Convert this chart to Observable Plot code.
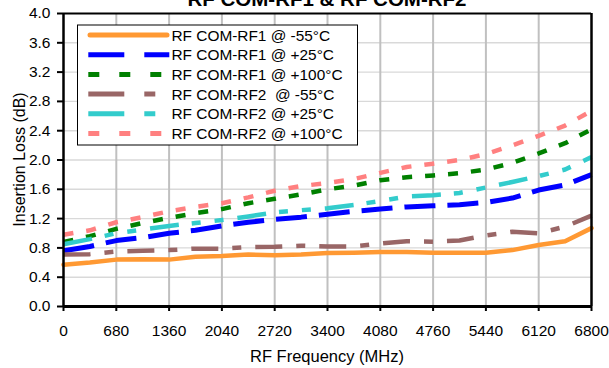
<!DOCTYPE html>
<html>
<head>
<meta charset="utf-8">
<script src="https://cdn.jsdelivr.net/npm/d3@7"></script>
<script src="https://cdn.jsdelivr.net/npm/@observablehq/plot@0.6"></script>
<style>
  html, body { margin: 0; padding: 0; background: white; overflow: hidden; }
  #chart { position: relative; width: 609px; height: 368px; }
</style>
</head>
<body>
<div id="chart"></div>
<script>
// ---- data ----
const freq = [0, 340, 680, 1020, 1360, 1700, 2040, 2380, 2720, 3060, 3400,
              3740, 4080, 4420, 4760, 5100, 5440, 5780, 6120, 6460, 6800];
const rf1_m55  = [0.57, 0.60, 0.64, 0.645, 0.64, 0.68, 0.69, 0.71, 0.70, 0.71, 0.73,
                  0.735, 0.745, 0.745, 0.735, 0.735, 0.735, 0.77, 0.84, 0.89, 1.07];
const rf1_p25  = [0.76, 0.82, 0.90, 0.94, 1.00, 1.04, 1.10, 1.15, 1.19, 1.22, 1.26,
                  1.30, 1.33, 1.36, 1.375, 1.39, 1.42, 1.48, 1.59, 1.66, 1.80];
const rf1_p100 = [0.88, 0.96, 1.06, 1.14, 1.21, 1.275, 1.33, 1.41, 1.47, 1.53, 1.60,
                  1.65, 1.725, 1.765, 1.79, 1.82, 1.87, 1.96, 2.09, 2.23, 2.42];
const rf2_m55  = [0.71, 0.715, 0.75, 0.76, 0.77, 0.79, 0.79, 0.81, 0.815, 0.83, 0.82,
                  0.82, 0.86, 0.89, 0.885, 0.90, 0.97, 1.02, 1.00, 1.09, 1.24];
const rf2_p25  = [0.85, 0.92, 1.00, 1.05, 1.10, 1.14, 1.18, 1.23, 1.285, 1.315, 1.34,
                  1.385, 1.44, 1.50, 1.52, 1.55, 1.625, 1.70, 1.78, 1.87, 2.04];
const rf2_p100 = [0.98, 1.04, 1.15, 1.22, 1.30, 1.36, 1.41, 1.49, 1.58, 1.645, 1.685,
                  1.74, 1.825, 1.905, 1.95, 2.00, 2.08, 2.20, 2.33, 2.47, 2.67];

const seriesNames = ["RF COM-RF1 @ -55°C", "RF COM-RF1 @ +25°C", "RF COM-RF1 @ +100°C",
                     "RF COM-RF2  @ -55°C", "RF COM-RF2 @ +25°C", "RF COM-RF2 @ +100°C"];
const seriesValues = [rf1_m55, rf1_p25, rf1_p100, rf2_m55, rf2_p25, rf2_p100];
const xTicks = [0, 680, 1360, 2040, 2720, 3400, 4080, 4760, 5440, 6120, 6800];
const yTicks = [0, 0.4, 0.8, 1.2, 1.6, 2.0, 2.4, 2.8, 3.2, 3.6, 4.0];
const titleText = "RF COM-RF1 & RF COM-RF2";
const xLabel = "RF Frequency (MHz)";
const yLabel = "Insertion Loss (dB)";

// ---- styles ----
const colors = ["#FF9933", "#0000FF", "#008000", "#996666", "#33CCCC", "#FF8080"];
const widths = [4.5, 5, 4.5, 4.5, 4.5, 4.5];
const dashes = [null, "31,12", "10,13", "27,14,9,14", "29,13,9,14,9,14", "10,13"];
const legendDashes = [null, "36,20", "11,20", "36,20,11,40", "36,20,11,40", "11,20"];

const W = 609, H = 368;
const mL = 63, mR = 18, mT = 13, mB = 62;
const font = "'Liberation Sans', Arial, Helvetica, sans-serif";

const lineMarks = seriesValues.map((vals, i) =>
  Plot.line(freq.map((f, j) => ({f, v: vals[j]})), {
    x: "f", y: "v",
    stroke: colors[i],
    strokeWidth: widths[i],
    strokeDasharray: dashes[i] || undefined,
    strokeLinecap: dashes[i] ? "butt" : "round",
    strokeLinejoin: "round"
  })
);

const plot = Plot.plot({
  width: W, height: H,
  marginLeft: mL, marginRight: mR, marginTop: mT, marginBottom: mB,
  style: {fontFamily: font, fontSize: "15.5px", background: "white", overflow: "visible", color: "black"},
  x: {domain: [0, 6800], ticks: xTicks, tickFormat: d => String(d), tickSize: 5, tickPadding: 13, label: null},
  y: {domain: [0, 4], ticks: yTicks, tickFormat: d => d.toFixed(1), tickSize: 6, tickPadding: 7, label: null},
  marks: [
    Plot.ruleY(yTicks.slice(1, -1), {stroke: "#d9d9d9", strokeWidth: 1.4}),
    Plot.ruleX(xTicks.slice(1, -1), {stroke: "#c0c0c0", strokeWidth: 2}),
    ...lineMarks,
    Plot.ruleY([4], {stroke: "black", strokeWidth: 2}),
    Plot.ruleX([6800], {stroke: "black", strokeWidth: 2.5}),
    Plot.ruleX([0], {stroke: "black", strokeWidth: 2.5}),
    Plot.ruleY([0], {stroke: "black", strokeWidth: 3})
  ]
});

document.getElementById("chart").appendChild(plot);
const svg = d3.select(plot);
svg.selectAll("g[aria-label='x-axis tick'] path, g[aria-label='y-axis tick'] path")
  .attr("stroke-width", 2);

const cx = mL + (W - mL - mR) / 2;

// title (partly cut off at the top, as in the reference)
svg.append("text")
  .attr("x", cx).attr("y", 6)
  .attr("text-anchor", "middle")
  .attr("font-family", font).attr("font-weight", "bold").attr("font-size", 20.5)
  .attr("fill", "black")
  .text(titleText);

// axis titles
svg.append("text")
  .attr("x", cx).attr("y", 362)
  .attr("text-anchor", "middle")
  .attr("font-family", font).attr("font-size", 16.5)
  .attr("fill", "black")
  .text(xLabel);

svg.append("text")
  .attr("transform", `translate(25,${mT + (H - mT - mB) / 2}) rotate(-90)`)
  .attr("text-anchor", "middle")
  .attr("font-family", font).attr("font-size", 16)
  .attr("fill", "black")
  .text(yLabel);

// legend
const lg = svg.append("g");
lg.append("rect")
  .attr("x", 77.5).attr("y", 25).attr("width", 280).attr("height", 120)
  .attr("fill", "white").attr("stroke", "black").attr("stroke-width", 1);
seriesNames.forEach((name, i) => {
  const yy = 35 + i * 19.7;
  lg.append("line")
    .attr("x1", dashes[i] ? 88.3 : 90).attr("x2", dashes[i] ? 169.3 : 167)
    .attr("y1", yy).attr("y2", yy)
    .attr("stroke", colors[i]).attr("stroke-width", 5)
    .attr("stroke-linecap", dashes[i] ? "butt" : "round")
    .attr("stroke-dasharray", legendDashes[i] || null);
  lg.append("text")
    .attr("x", 171.5).attr("y", yy)
    .attr("dy", "0.36em")
    .attr("text-anchor", "start")
    .attr("font-family", font).attr("font-size", 15.4)
    .attr("fill", "black")
    .style("white-space", "pre")
    .attr("xml:space", "preserve")
    .text(name);
});
</script>
</body>
</html>
